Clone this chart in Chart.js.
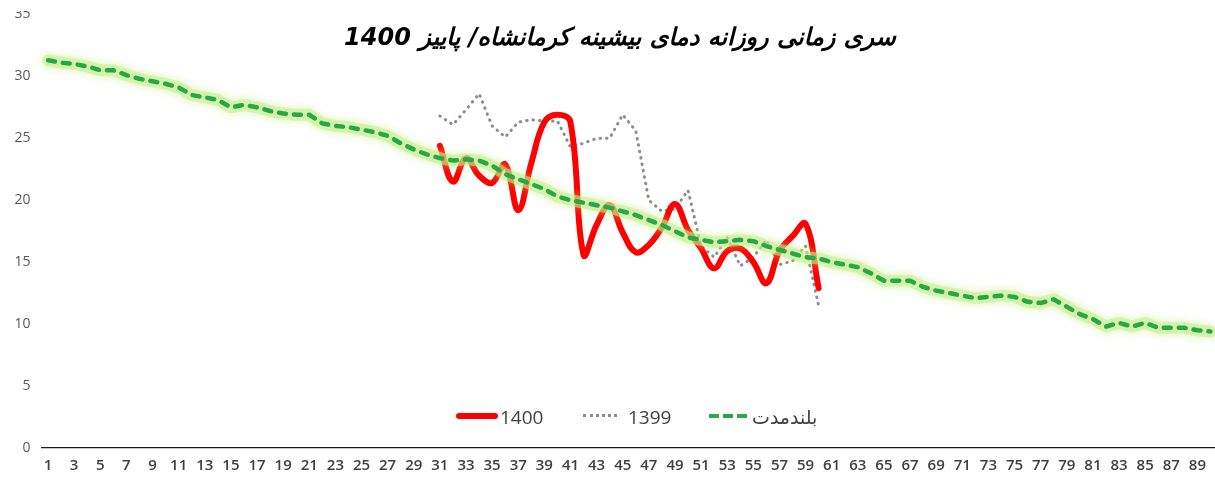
<!DOCTYPE html>
<html>
<head>
<meta charset="utf-8">
<script src="https://cdn.jsdelivr.net/npm/chart.js@4.4.0/dist/chart.umd.min.js"></script>
<style>
    html, body { margin: 0; padding: 0; background: #fff; overflow: hidden; }
    #wrap { position: relative; width: 1220px; height: 480px; overflow: hidden; }
    #myChart { position: absolute; left: 0; top: -5px; }
    #title { position: absolute; left: 0; top: 23px; width: 1240px; text-align: center; direction: rtl;
             font: italic bold 24px "DejaVu Sans"; color: #000; }
    #mask { position: absolute; left: 0; top: 0; width: 38px; height: 11px; background: #fff; }
    .lg { position: absolute; top: 404px; height: 24px; line-height: 24px; font: 19px "Open Sans", "DejaVu Sans"; color: #404040; white-space: nowrap; }
    .sw { position: absolute; }
    .sw.red { top: 413px; left: 456px; width: 42px; height: 6px; border-radius: 3px; background: #ff0000; }
    .sw.grey { top: 414px; left: 583px; width: 34px; height: 0; border-top: 3px dotted #8c8c8c; }
    .sw.green { top: 414px; left: 709px; width: 40px; height: 4px;
                background: repeating-linear-gradient(90deg, #25a84a 0 10px, transparent 10px 14px); }
</style>
</head>
<body>
<div id="wrap">
    <canvas id="myChart" width="1220" height="485"></canvas>
    <div id="mask"></div>
    <div id="title">سری زمانی روزانه دمای بیشینه کرمانشاه/ پاییز 1400</div>
    <i class="sw red"></i><span class="lg" style="left:500px">1400</span>
    <i class="sw grey"></i><span class="lg" style="left:628px">1399</span>
    <i class="sw green"></i><span class="lg" style="left:752px" dir="rtl">بلندمدت</span>
</div>
<script>
// روزهای پاییز
var days = [1, 2, 3, 4, 5, 6, 7, 8, 9, 10, 11, 12, 13, 14, 15, 16, 17, 18, 19, 20,
    21, 22, 23, 24, 25, 26, 27, 28, 29, 30, 31, 32, 33, 34, 35, 36, 37, 38, 39, 40,
    41, 42, 43, 44, 45, 46, 47, 48, 49, 50, 51, 52, 53, 54, 55, 56, 57, 58, 59, 60,
    61, 62, 63, 64, 65, 66, 67, 68, 69, 70, 71, 72, 73, 74, 75, 76, 77, 78, 79, 80,
    81, 82, 83, 84, 85, 86, 87, 88, 89, 90];

// بلندمدت
var longTerm = [31.3, 31.1, 31.0, 30.8, 30.5, 30.5, 30.1, 29.8, 29.6, 29.4,
    29.1, 28.5, 28.3, 28.1, 27.5, 27.7, 27.5, 27.2, 27.0, 26.9,
    26.9, 26.2, 26.0, 25.9, 25.7, 25.5, 25.2, 24.6, 24.1, 23.7,
    23.4, 23.2, 23.3, 23.2, 22.8, 22.1, 21.7, 21.3, 20.9, 20.3,
    20.0, 19.8, 19.6, 19.4, 19.1, 18.8, 18.4, 18.0, 17.5, 17.0,
    16.8, 16.6, 16.7, 16.8, 16.7, 16.3, 16.0, 15.7, 15.4, 15.3,
    15.0, 14.8, 14.6, 14.1, 13.5, 13.5, 13.5, 13.0, 12.7, 12.5,
    12.3, 12.1, 12.2, 12.3, 12.2, 11.8, 11.7, 12.0, 11.4, 10.8,
    10.4, 9.8, 10.1, 9.8, 10.1, 9.7, 9.7, 9.7, 9.5, 9.4];

// 1400
var year1400 = [null, null, null, null, null, null, null, null, null, null,
    null, null, null, null, null, null, null, null, null, null,
    null, null, null, null, null, null, null, null, null, null,
    24.4, 21.5, 23.4, 22.0, 21.4, 22.9, 19.2, 23.0, 26.3, 26.9,
    26.3, 15.6, 18.0, 19.6, 17.4, 15.8, 16.4, 17.8, 19.7, 17.6,
    16.1, 14.5, 15.9, 16.1, 15.0, 13.3, 15.9, 17.1, 18.1, 12.9,
    null, null, null, null, null, null, null, null, null, null,
    null, null, null, null, null, null, null, null, null, null,
    null, null, null, null, null, null, null, null, null, null];

// 1399
var year1399 = [null, null, null, null, null, null, null, null, null, null,
    null, null, null, null, null, null, null, null, null, null,
    null, null, null, null, null, null, null, null, null, null,
    26.8, 26.1, 27.3, 28.6, 26.0, 25.1, 26.3, 26.5, 26.4, 26.4,
    24.3, 24.6, 25.0, 25.0, 26.9, 25.6, 20.0, 19.1, 19.3, 20.8,
    16.3, 15.4, 17.0, 14.7, 15.4, 16.8, 14.8, 15.1, 16.3, 11.5,
    null, null, null, null, null, null, null, null, null, null,
    null, null, null, null, null, null, null, null, null, null,
    null, null, null, null, null, null, null, null, null, null];

// 線のぼかし
var glowPlugin = {
    id: 'glow',
    beforeDatasetDraw: function (chart, args) {
        var ds = chart.data.datasets[args.index];
        if (ds.glow) {
            chart.ctx.save();
            chart.ctx.shadowColor = ds.glow;
            chart.ctx.shadowBlur = 8;
        }
    },
    afterDatasetDraw: function (chart, args) {
        if (chart.data.datasets[args.index].glow) chart.ctx.restore();
    }
};

var ctx = document.getElementById('myChart').getContext('2d');
var myChart = new Chart(ctx, {
    type: 'line',
    data: {
        labels: days,
        datasets: [{
            label: 'بلندمدت',
            data: longTerm,
            borderColor: '#25a84a',
            borderWidth: 4.5,
            borderDash: [7, 8],
            borderCapStyle: 'round',
            tension: 0,
            pointRadius: 0,
            order: 0
        }, {
            label: 'glow',
            data: longTerm,
            borderColor: 'rgba(200, 238, 140, 0.55)',
            glow: 'rgba(185, 232, 110, 0.9)',
            borderWidth: 12,
            borderJoinStyle: 'round',
            borderCapStyle: 'round',
            tension: 0,
            pointRadius: 0,
            order: 1
        }, {
            label: '1400',
            data: year1400,
            borderColor: '#ff0000',
            borderWidth: 6,
            borderCapStyle: 'round',
            tension: 0.4,
            pointRadius: 0,
            order: 2
        }, {
            label: '1399',
            data: year1399,
            borderColor: '#8c8c8c',
            borderWidth: 3,
            borderDash: [0.5, 6],
            borderCapStyle: 'round',
            tension: 0,
            pointRadius: 0,
            order: 3
        }]
    },
    options: {
        responsive: false,
        animation: false,
        layout: { padding: { top: 7, right: 3, left: 0, bottom: 0 } },
        plugins: {
            legend: { display: false },
            title: { display: false },
            tooltip: { enabled: false }
        },
        scales: {
            x: {
                offset: true,
                grid: { display: false, drawTicks: false },
                border: { display: true, color: '#1a1a1a', width: 1.3 },
                ticks: {
                    autoSkip: false,
                    maxRotation: 0,
                    padding: 9,
                    color: '#404040',
                    font: { family: 'Open Sans', size: 15, weight: '600' },
                    callback: function (value, index) {
                        return index % 2 === 0 ? this.getLabelForValue(value) : '';
                    }
                },
                afterFit: function (scale) { scale.height = 32; }
            },
            y: {
                min: 0,
                max: 35,
                grid: { display: false, drawTicks: false },
                border: { display: false },
                ticks: {
                    stepSize: 5,
                    padding: 11,
                    color: '#595959',
                    font: { family: 'Open Sans', size: 14 }
                },
                afterFit: function (scale) { scale.width = 41.5; }
            }
        }
    },
    plugins: [glowPlugin]
});
</script>
</body>
</html>
